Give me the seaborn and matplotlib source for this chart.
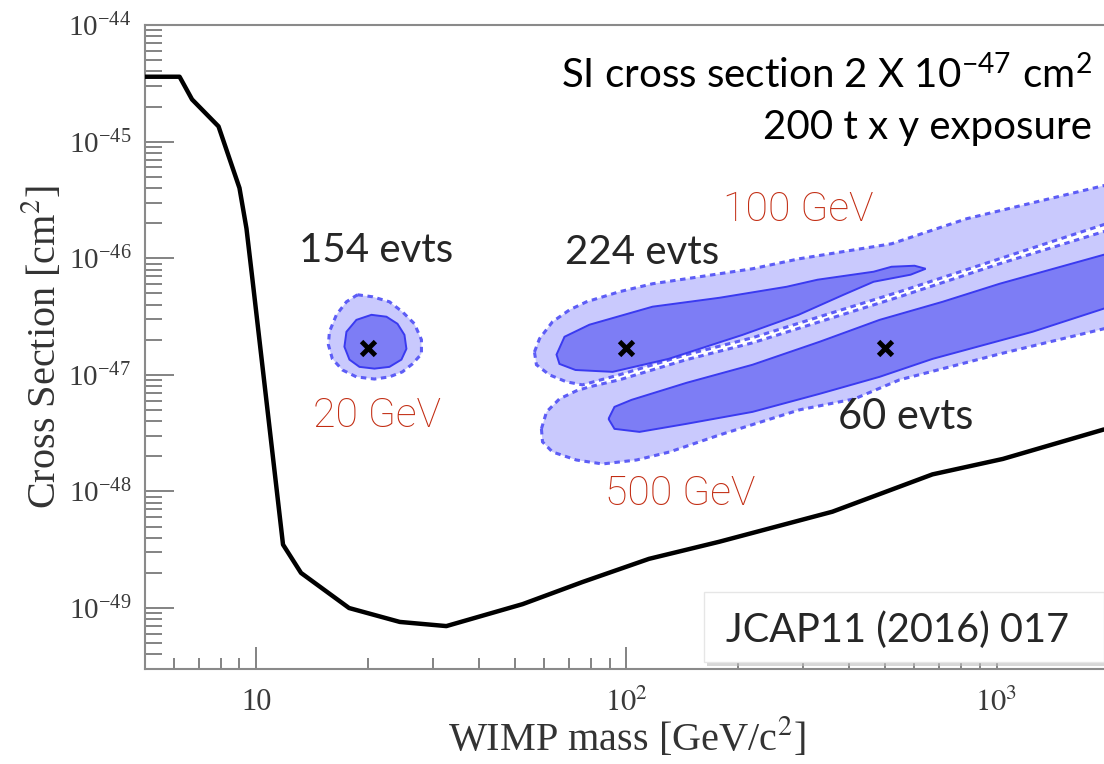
import matplotlib
matplotlib.use("Agg")
import numpy as np
import matplotlib.pyplot as plt
import seaborn as sns
from matplotlib.patches import Rectangle
from matplotlib.ticker import FixedLocator, FixedFormatter, LogLocator, NullFormatter, LogFormatterMathtext

sns.set_style("ticks")
plt.rcParams['font.family'] = ['Liberation Serif', 'DejaVu Serif']
plt.rcParams['mathtext.fontset'] = 'stix'

# exclusion limit (GeV, cm^2)
limit_mass = [5.0, 6.2, 6.7, 7.9, 8.45, 9.0, 9.4, 9.75, 11.8, 13.2, 17.8, 24.4, 32.6,
              52.4, 76, 115, 178, 360, 671, 1040, 1950]
limit_xs = [3.6e-45, 3.6e-45, 2.3e-45, 1.35e-45, 7.2e-46, 4.0e-46, 1.8e-46, 6.7e-47,
            3.5e-49, 2.0e-49, 1.0e-49, 7.6e-50, 7.0e-50, 1.08e-49, 1.67e-49, 2.64e-49,
            3.7e-49, 6.7e-49, 1.4e-48, 1.9e-48, 3.4e-48]

# benchmark points
bench_mass = [20, 100, 500]
bench_xs = [1.7e-47, 1.7e-47, 1.7e-47]

# reconstructed regions: mass in GeV, cross section in units of 1e-47 cm^2
m20_outer = [18.75, 20.59, 22.88, 24.80, 26.73, 27.92, 27.92, 26.40, 24.80, 22.88, 20.84,
             18.63, 17.08, 16.04, 15.65, 15.75, 16.45, 17.51]
s20_outer = [4.86, 4.67, 4.23, 3.47, 2.74, 2.00, 1.51, 1.24, 1.06, 0.96, 0.92,
             0.96, 1.10, 1.37, 1.81, 2.34, 3.27, 4.23]
m20_inner = [17.51, 18.63, 20.46, 22.46, 24.05, 25.12, 25.43, 24.65, 22.88, 20.84, 18.98,
             17.84, 17.29]
s20_inner = [2.34, 2.96, 3.27, 3.15, 2.74, 2.20, 1.67, 1.35, 1.17, 1.13, 1.17,
             1.35, 1.74]

m100_outer = [56.4, 58.2, 63.1, 70.2, 78.0, 95.7, 117.6, 145.3, 178.4, 219.0, 293.5, 520.2,
              829.6, 1946, 2591, 2591, 1946, 1019, 546.8, 332.4, 219.0, 145.3, 95.7, 76.0,
              68.8, 61.9, 57.1]
s100_outer = [1.57, 2.04, 2.85, 3.61, 4.23, 5.16, 6.04, 6.67, 7.36, 8.12, 9.9, 13.3,
              21.8, 41.9, 53.1, 25.1, 19.4, 9.9, 5.16, 3.15, 2.08, 1.49, 1.00, 0.82,
              0.871, 1.00, 1.22]
m100_inner = [64.7, 68.0, 79.4, 117.6, 178.4, 270.7, 328.2, 465.2, 520.2, 600.3, 643.1,
              585.6, 465.2, 385.9, 291.6, 205.8, 129.9, 91.7, 72.8, 65.9]
s100_inner = [1.49, 2.12, 2.69, 3.84, 4.58, 5.69, 6.54, 7.66, 8.45, 8.62, 8.12,
              7.22, 6.28, 4.86, 3.27, 2.20, 1.37, 1.06, 1.10, 1.24]

m500_outer = [58.9, 60.8, 65.9, 73.2, 79.4, 95.7, 145.3, 219.0, 332.4, 546.8, 1019, 1946,
              2591, 2591, 1946, 1019, 546.8, 413.2, 293.5, 178.4, 130.7, 106.4, 86.1, 73.2,
              63.1, 59.3]
s500_outer = [0.344, 0.481, 0.622, 0.729, 0.789, 0.906, 1.35, 1.88, 2.85, 4.67, 8.97, 16.9,
              21.8, 3.15, 2.48, 1.51, 0.906, 0.622, 0.501, 0.305, 0.218, 0.186, 0.172, 0.186,
              0.218, 0.266]
m500_inner = [89.4, 92.8, 103.2, 145.3, 219.0, 332.4, 482.9, 714.6, 1019, 1946, 2591,
              2591, 1946, 1251, 671.4, 482.9, 332.4, 219.0, 145.3, 108.4, 92.8]
s500_inner = [0.419, 0.531, 0.610, 0.854, 1.22, 1.92, 2.96, 4.23, 6.04, 10.7, 13.9,
              4.95, 3.69, 2.34, 1.37, 0.961, 0.687, 0.481, 0.380, 0.324, 0.344]

y_major = [1e-49, 1e-48, 1e-47, 1e-46, 1e-45, 1e-44]

W, H = 1104, 764
fig = plt.figure(figsize=(W / 100, H / 100), dpi=100)
ax = fig.add_axes([145 / W, (H - 669) / H, (1108 - 145) / W, (669 - 25) / H])
ax.set_xscale('log')
ax.set_yscale('log')

light = '#c9c9fd'
dark = '#7d7df5'
dash_col = '#5d5df6'
line_col = '#3a3af0'

outers = [(m20_outer, s20_outer), (m100_outer, s100_outer), (m500_outer, s500_outer)]
inners = [(m20_inner, s20_inner), (m100_inner, s100_inner), (m500_inner, s500_inner)]

for m, s in outers:
    ax.fill(m, np.array(s) * 1e-47, color=light, lw=0, zorder=1)
for m, s in outers:
    ax.fill(m, np.array(s) * 1e-47, fill=False, ec=dash_col, lw=2.2, ls=(0, (1.8, 1.5)), zorder=2)
for m, s in inners:
    ax.fill(m, np.array(s) * 1e-47, color=dark, lw=0, zorder=3)
    ax.fill(m, np.array(s) * 1e-47, fill=False, ec=line_col, lw=1.4, zorder=4)

sns.lineplot(x=limit_mass, y=limit_xs, sort=False, color='black', lw=3.2, ax=ax, zorder=5)
sns.scatterplot(x=bench_mass, y=bench_xs, marker='x', s=100, color='black', linewidth=3.5,
                ax=ax, zorder=6)

ax.set_xlim(5, 2000)
ax.set_ylim(3e-50, 1e-44)

ax.xaxis.set_major_locator(FixedLocator([10, 100, 1000]))
ax.xaxis.set_major_formatter(FixedFormatter(['10', '$10^2$', '$10^3$']))
ax.xaxis.set_minor_locator(LogLocator(base=10, subs=range(2, 10), numticks=20))
ax.xaxis.set_minor_formatter(NullFormatter())
ax.yaxis.set_major_locator(FixedLocator(y_major))
ax.yaxis.set_major_formatter(LogFormatterMathtext())
ax.yaxis.set_minor_locator(LogLocator(base=10, subs=range(2, 10), numticks=20))
ax.yaxis.set_minor_formatter(NullFormatter())

ax.tick_params(axis='both', which='both', direction='in', color='#7a7a7a', labelcolor='#3a3a3a',
               top=False, right=False)
ax.tick_params(axis='y', which='major', length=21, width=1.3, labelsize=21, pad=10)
ax.tick_params(axis='y', which='minor', length=12, width=1.3)
ax.tick_params(axis='x', which='major', length=16, width=1.3, labelsize=22, pad=14)
ax.tick_params(axis='x', which='minor', length=8, width=1.3)

for side in ['left', 'bottom', 'top']:
    ax.spines[side].set_color('#8a8a8a')
    ax.spines[side].set_linewidth(1.5)
ax.spines['right'].set_visible(False)

ax.set_xlabel('WIMP mass [GeV/c$^2$]', fontsize=29, color='#333333', labelpad=-1)
ax.set_ylabel('Cross Section [cm$^2$]', fontsize=29, color='#333333', labelpad=3)


def fpos(x, y):
    return x / W, 1 - y / H


sans = ['Lato', 'DejaVu Sans']
red = '#c22c12'

fig.text(*fpos(1092, 75), 'SI cross section 2 X 10$^{\\mathdefault{-47}}$ cm$^{\\mathdefault{2}}$',
         family=sans, fontsize=29, ha='right', va='center', color='black')
fig.text(*fpos(1092, 127), '200 t x y exposure', family=sans, fontsize=29,
         ha='right', va='center', color='black')

fig.text(*fpos(376, 250), '154 evts', family=sans, fontsize=29, ha='center', va='center')
fig.text(*fpos(642, 253), '224 evts', family=sans, fontsize=29, ha='center', va='center')
fig.text(*fpos(906, 417), '60 evts', family=sans, fontsize=30, ha='center', va='center')

red_font = dict(family=['Roboto', 'DejaVu Sans'], fontweight='light', fontsize=29.5, color=red,
                ha='center', va='center')
fig.text(*fpos(798, 210), '100 GeV', **red_font)
fig.text(*fpos(377, 416), '20 GeV', **red_font)
fig.text(*fpos(680, 494), '500 GeV', **red_font)

# reference box
fig.patches.append(Rectangle((707 / W, 1 - 666 / H), 400 / W, 72 / H, transform=fig.transFigure,
                             facecolor='#bdbdbd', edgecolor='none', alpha=0.6, zorder=8))
fig.patches.append(Rectangle((704 / W, 1 - 662 / H), 400 / W, 70 / H, transform=fig.transFigure,
                             facecolor='white', edgecolor='#e6e6e6', lw=1, zorder=9))
fig.text(*fpos(898, 630), 'JCAP11 (2016) 017', family=sans, fontsize=28.5,
         ha='center', va='center', zorder=10)

fig.savefig('out.png', dpi=100)
